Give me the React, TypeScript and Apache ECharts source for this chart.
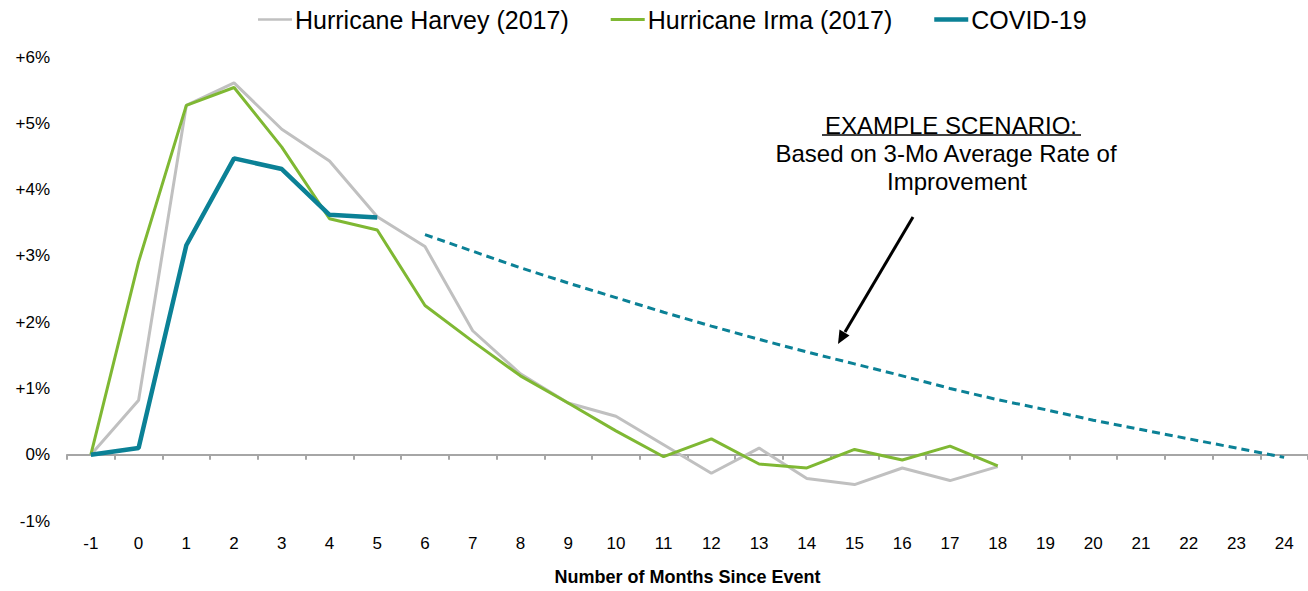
import React, { useEffect, useRef } from "react";
import * as echarts from "echarts";

const months = ["-1", "0", "1", "2", "3", "4", "5", "6", "7", "8", "9", "10", "11", "12", "13", "14", "15", "16", "17", "18", "19", "20", "21", "22", "23", "24"];
const harvey = [0, 0.82, 5.27, 5.61, 4.91, 4.43, 3.59, 3.14, 1.87, 1.22, 0.78, 0.58, 0.15, -0.28, 0.1, -0.36, -0.45, -0.2, -0.39, -0.18];
const irma = [0, 2.91, 5.27, 5.54, 4.64, 3.56, 3.39, 2.25, 1.71, 1.19, 0.78, 0.36, -0.03, 0.24, -0.14, -0.2, 0.08, -0.08, 0.13, -0.17];
const covid = [0, 0.1, 3.16, 4.47, 4.31, 3.62, 3.58];
const projection = [null, null, null, null, null, null, null, 3.32, 3.07, 2.82, 2.59, 2.37, 2.15, 1.94, 1.74, 1.55, 1.37, 1.19, 1.0, 0.83, 0.68, 0.52, 0.38, 0.24, 0.1, -0.04];
const yTicks = { min: -1, max: 6, interval: 1 };

const FONT = "'Liberation Sans', Arial, sans-serif";
const GRAY = "#c0c0c0";
const GREEN = "#7fb833";
const TEAL = "#0b8196";

export default function App() {
  const ref = useRef<HTMLDivElement>(null);
  useEffect(() => {
    document.body.style.margin = "0";
    if (!ref.current) return;
    const chart = echarts.init(ref.current, null, { renderer: "svg" });
    chart.setOption({
      animation: false,
      textStyle: { fontFamily: FONT },
      legend: {
        top: 2,
        left: 253,
        data: [
          { name: "Hurricane Harvey (2017)", icon: "path://M0 0H34V2.6H0Z" },
          { name: "Hurricane Irma (2017)", icon: "path://M0 0H34V2.8H0Z" },
          { name: "COVID-19", icon: "path://M0 0H34V4.5H0Z" },
        ],
        itemWidth: 34,
        itemHeight: 14,
        itemGap: 42,
        itemStyle: { borderWidth: 0 },
        textStyle: { fontSize: 25, color: "#000", fontFamily: FONT, padding: [0, 0, 0, -2] },
      },
      grid: { left: 67, top: 57, width: 1247, height: 466 },
      xAxis: [
        {
          type: "category",
          data: months,
          boundaryGap: true,
          position: "bottom",
          axisLine: { onZero: true, lineStyle: { color: "#a6a6a6", width: 2 } },
          axisTick: { show: true, length: 5, lineStyle: { color: "#a6a6a6", width: 2 } },
          axisLabel: { show: false },
          splitLine: { show: false },
        },
        {
          type: "category",
          data: months,
          boundaryGap: true,
          position: "bottom",
          axisLine: { show: false, onZero: false },
          axisTick: { show: false },
          axisLabel: { show: true, fontSize: 17, color: "#000", margin: 14, fontFamily: FONT, interval: 0 },
          splitLine: { show: false },
          name: "Number of Months Since Event",
          nameLocation: "middle",
          nameGap: 47,
          nameTextStyle: { fontSize: 18, fontWeight: "bold", color: "#000", fontFamily: FONT, verticalAlign: "top" },
        },
      ],
      yAxis: {
        type: "value",
        min: yTicks.min,
        max: yTicks.max,
        interval: yTicks.interval,
        axisLine: { show: false },
        axisTick: { show: false },
        splitLine: { show: false },
        axisLabel: {
          fontSize: 17,
          color: "#000",
          margin: 17,
          fontFamily: FONT,
          formatter: (v: number) => (v > 0 ? `+${v}%` : `${v}%`),
        },
      },
      series: [
        {
          name: "Hurricane Harvey (2017)",
          type: "line",
          data: harvey,
          showSymbol: false,
          symbol: "none",
          lineStyle: { color: GRAY, width: 3 },
          itemStyle: { color: GRAY },
          z: 2,
        },
        {
          name: "Hurricane Irma (2017)",
          type: "line",
          data: irma,
          showSymbol: false,
          symbol: "none",
          lineStyle: { color: GREEN, width: 3 },
          itemStyle: { color: GREEN },
          z: 3,
        },
        {
          name: "COVID-19",
          type: "line",
          data: covid,
          showSymbol: false,
          symbol: "none",
          lineStyle: { color: TEAL, width: 4.5 },
          itemStyle: { color: TEAL },
          z: 4,
        },
        {
          name: "Projection",
          type: "line",
          data: projection,
          showSymbol: false,
          symbol: "none",
          connectNulls: false,
          lineStyle: { color: TEAL, width: 3, type: [8, 5] },
          itemStyle: { color: TEAL },
          z: 4,
        },
      ],
      graphic: [
        {
          type: "text",
          x: 951,
          y: 125,
          style: {
            text: "EXAMPLE SCENARIO:",
            fontSize: 24,
            fontFamily: FONT,
            fill: "#000",
            align: "center",
            verticalAlign: "middle",
          },
        },
        {
          type: "line",
          shape: { x1: 822, y1: 135, x2: 1081, y2: 135 },
          style: { stroke: "#000", lineWidth: 1.5 },
        },
        {
          type: "text",
          x: 946,
          y: 153,
          style: {
            text: "Based on 3-Mo Average Rate of",
            fontSize: 24,
            fontFamily: FONT,
            fill: "#000",
            align: "center",
            verticalAlign: "middle",
          },
        },
        {
          type: "text",
          x: 957,
          y: 181,
          style: {
            text: "Improvement",
            fontSize: 24,
            fontFamily: FONT,
            fill: "#000",
            align: "center",
            verticalAlign: "middle",
          },
        },
        {
          type: "line",
          shape: { x1: 913, y1: 217, x2: 845, y2: 332 },
          style: { stroke: "#000", lineWidth: 3 },
        },
        {
          type: "polygon",
          shape: { points: [[838, 344], [849.5, 335.5], [839.5, 329.5]] },
          style: { fill: "#000" },
        },
      ],
    });
    return () => chart.dispose();
  }, []);
  return <div ref={ref} style={{ width: 1308, height: 591 }} />;
}
